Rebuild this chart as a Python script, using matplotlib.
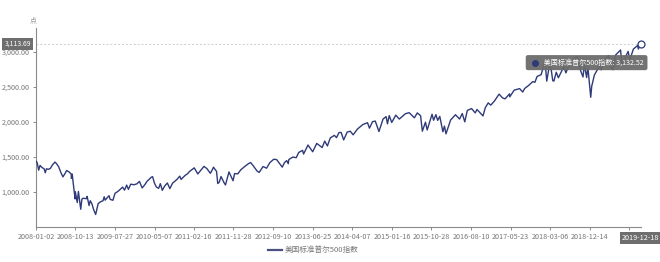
import numpy as np
import matplotlib
matplotlib.use("Agg")
import matplotlib.pyplot as plt

plt.rcParams['font.family'] = ['Noto Sans CJK SC', 'DejaVu Sans']

series_name = '美国标准普尔500指数'

dates = [
    '2008-01-02', '2008-01-10', '2008-01-22', '2008-01-31', '2008-02-14', '2008-02-29',
    '2008-03-10', '2008-03-18', '2008-03-31', '2008-04-15', '2008-04-30', '2008-05-19',
    '2008-05-30', '2008-06-13', '2008-06-30', '2008-07-15', '2008-07-31', '2008-08-11',
    '2008-08-29', '2008-09-12', '2008-09-15', '2008-09-19', '2008-09-29', '2008-10-10',
    '2008-10-13', '2008-10-27', '2008-11-04', '2008-11-20', '2008-11-28', '2008-12-08',
    '2008-12-31',
    '2009-01-06', '2009-01-20', '2009-01-28', '2009-02-10', '2009-02-23', '2009-03-09',
    '2009-03-26', '2009-04-13', '2009-04-30', '2009-05-08', '2009-05-15', '2009-06-12',
    '2009-06-22', '2009-07-10', '2009-07-27', '2009-08-14', '2009-08-28', '2009-09-18',
    '2009-10-02', '2009-10-19', '2009-10-30', '2009-11-17', '2009-12-10', '2009-12-31',
    '2010-01-19', '2010-02-08', '2010-02-26', '2010-03-15', '2010-04-15', '2010-04-23',
    '2010-05-06', '2010-05-20', '2010-06-07', '2010-06-18', '2010-07-02', '2010-07-20',
    '2010-08-09', '2010-08-26', '2010-09-15', '2010-10-15', '2010-11-05', '2010-11-16',
    '2010-12-15', '2010-12-31',
    '2011-01-18', '2011-02-18', '2011-03-16', '2011-04-29', '2011-05-20', '2011-06-15',
    '2011-06-30', '2011-07-07', '2011-07-29', '2011-08-08', '2011-08-18', '2011-08-31',
    '2011-09-22', '2011-10-03', '2011-10-27', '2011-11-25', '2011-12-07', '2011-12-30',
    '2012-01-20', '2012-02-17', '2012-03-16', '2012-04-02', '2012-04-23', '2012-05-18',
    '2012-06-01', '2012-06-29', '2012-07-25', '2012-08-17', '2012-09-14', '2012-10-05',
    '2012-11-15', '2012-11-30', '2012-12-18', '2012-12-28',
    '2013-01-02', '2013-01-31', '2013-02-25', '2013-03-14', '2013-04-11', '2013-04-18',
    '2013-05-21', '2013-06-24', '2013-07-23', '2013-08-30', '2013-09-18', '2013-10-08',
    '2013-10-29', '2013-11-27', '2013-12-12', '2013-12-31',
    '2014-01-15', '2014-02-03', '2014-02-27', '2014-03-21', '2014-04-11', '2014-05-13',
    '2014-06-20', '2014-07-24', '2014-08-07', '2014-08-29', '2014-09-18', '2014-10-15',
    '2014-11-13', '2014-12-05', '2014-12-16', '2014-12-29',
    '2015-01-15', '2015-02-13', '2015-03-11', '2015-04-24', '2015-05-21', '2015-06-29',
    '2015-07-20', '2015-08-12', '2015-08-25', '2015-09-16', '2015-09-29', '2015-11-03',
    '2015-11-13', '2015-12-01', '2015-12-14', '2015-12-29',
    '2016-01-20', '2016-02-01', '2016-02-11', '2016-03-16', '2016-04-20', '2016-05-19',
    '2016-06-08', '2016-06-27', '2016-07-14', '2016-08-15', '2016-09-09', '2016-09-22',
    '2016-11-04', '2016-11-22', '2016-12-13', '2016-12-30',
    '2017-01-26', '2017-03-01', '2017-03-27', '2017-04-13', '2017-05-16', '2017-05-17',
    '2017-06-19', '2017-07-27', '2017-08-18', '2017-09-01', '2017-09-29', '2017-10-31',
    '2017-11-15', '2017-11-30', '2017-12-29',
    '2018-01-26', '2018-02-08', '2018-02-26', '2018-03-09', '2018-03-23', '2018-04-02',
    '2018-04-18', '2018-05-03', '2018-06-12', '2018-06-27', '2018-07-25', '2018-08-29',
    '2018-09-20', '2018-10-11', '2018-10-29', '2018-11-07', '2018-11-23', '2018-12-03',
    '2018-12-24', '2018-12-31',
    '2019-01-18', '2019-02-25', '2019-03-08', '2019-04-05', '2019-04-30', '2019-05-13',
    '2019-06-03', '2019-06-20', '2019-07-26', '2019-08-05', '2019-08-14', '2019-08-30',
    '2019-09-19', '2019-10-02', '2019-10-28', '2019-11-27', '2019-12-03', '2019-12-10',
    '2019-12-18',
]

values = [
    1440, 1420, 1310, 1378, 1348, 1330, 1273, 1330, 1322, 1334, 1385, 1426,
    1400, 1360, 1280, 1214, 1267, 1305, 1283, 1252, 1193, 1255, 1106, 899,
    1003, 848, 1006, 752, 896, 909, 903,
    935, 805, 874, 827, 743, 677, 833, 858, 873, 930, 882, 946,
    893, 880, 980, 1005, 1029, 1068, 1025, 1097, 1036, 1110, 1102, 1115,
    1150, 1056, 1104, 1150, 1211, 1217, 1128, 1071, 1050, 1117, 1022, 1083,
    1127, 1047, 1125, 1176, 1225, 1178, 1236, 1258,
    1295, 1343, 1256, 1364, 1333, 1265, 1321, 1353, 1292, 1119, 1140, 1219,
    1129, 1099, 1285, 1159, 1261, 1258,
    1315, 1362, 1404, 1419, 1366, 1295, 1278, 1362, 1338, 1418, 1466, 1461,
    1353, 1416, 1447, 1402,
    1462, 1498, 1488, 1563, 1593, 1541, 1669, 1573, 1692, 1633, 1725, 1656,
    1771, 1807, 1775, 1848,
    1848, 1742, 1854, 1866, 1815, 1897, 1962, 1988, 1910, 2003, 2011, 1862,
    2039, 2075, 1972, 2090,
    1992, 2096, 2040, 2117, 2131, 2058, 2128, 2086, 1867, 1995, 1884, 2109,
    2023, 2103, 2021, 2078,
    1859, 1939, 1829, 2027, 2102, 2040, 2119, 2000, 2163, 2190, 2128, 2177,
    2085, 2203, 2271, 2239,
    2297, 2396, 2342, 2329, 2400, 2357, 2453, 2475, 2426, 2477, 2519, 2575,
    2565, 2648, 2674,
    2873, 2581, 2780, 2786, 2588, 2582, 2709, 2630, 2787, 2699, 2846, 2914,
    2931, 2729, 2641, 2814, 2633, 2790, 2351, 2507,
    2671, 2796, 2743, 2893, 2946, 2812, 2744, 2954, 3026, 2844, 2840, 2926,
    3006, 2887, 3039, 3090, 3040, 3080, 3113.69,
]

tick_labels = ['2008-01-02', '2008-10-13', '2009-07-27', '2010-05-07', '2011-02-16',
               '2011-11-28', '2012-09-10', '2013-06-25', '2014-04-07', '2015-01-16',
               '2015-10-28', '2016-08-10', '2017-05-23', '2018-03-06', '2018-12-14',
               '2019-09-30']
y_ticks = [1000, 1500, 2000, 2500, 3000]
tooltip_value = 3132.52

start = dates[0]
x = np.busday_count(start, dates)
tx = np.busday_count(start, tick_labels)
x_end = x[-1]

fig = plt.figure(figsize=(6.6, 2.62), dpi=100)
ax = fig.add_axes([0.0545, 0.134, 0.916, 0.759])

line_color = '#2f3a78'
ax.plot(x, values, color=line_color, lw=1.0, zorder=3)
ax.plot([x_end], [values[-1]], marker='o', ms=5, mfc='white', mec=line_color,
        mew=0.9, zorder=4, clip_on=False)

ax.set_xlim(0, x_end)
ax.set_ylim(500, 3340)

# pointer guides
ax.axhline(values[-1], color='#cccccc', ls=(0, (2, 2)), lw=0.7, zorder=1)
ax.axvline(x_end, color='#cccccc', ls=(0, (2, 2)), lw=0.7, zorder=1)

for s in ['top', 'right']:
    ax.spines[s].set_visible(False)
for s in ['left', 'bottom']:
    ax.spines[s].set_color('#8a8a8a')
    ax.spines[s].set_linewidth(0.8)

# last regular tick label is hidden under the pointer label
shown = tick_labels[:-1] + ['']
ax.set_xticks(tx)
ax.set_xticklabels(shown)
ax.set_yticks(y_ticks)
ax.set_yticklabels([f'{v:,.2f}' for v in y_ticks])
ax.tick_params(axis='both', labelsize=5.2, colors='#8a8a8a', labelcolor='#777777',
               length=2.5, width=0.7, pad=2)

ax.text(-0.005, 1.02, '点', transform=ax.transAxes, fontsize=5, color='#999999',
        ha='center', va='bottom')

box = dict(boxstyle='square,pad=0.3', fc='#6e6e6e', ec='none')
ax.text(-0.0085, values[-1], f'{values[-1]:,.2f}', transform=ax.get_yaxis_transform(),
        ha='right', va='center', fontsize=5, color='white', bbox=box, zorder=6,
        clip_on=False)
ax.text(x_end, -0.035, dates[-1], transform=ax.get_xaxis_transform(),
        ha='center', va='top', fontsize=5.2, color='white', bbox=box, zorder=6,
        clip_on=False)

# tooltip
ax.text(0.816, 0.826, f'         {series_name}: {tooltip_value:,.2f}', transform=ax.transAxes,
        fontsize=5.1, color='white', ha='left', va='center', zorder=7,
        bbox=dict(boxstyle='round,pad=0.5,rounding_size=0.3', fc='#6b6b6b',
                  ec='none', alpha=0.95))
ax.plot([0.825], [0.826], 'o', ms=4, color=line_color, transform=ax.transAxes,
        zorder=8, clip_on=False)

fig.legend([plt.Line2D([], [], color='#4a5180', lw=1.6)], [series_name],
           loc='center', bbox_to_anchor=(0.475, 0.045), frameon=False,
           fontsize=5.5, labelcolor='#777777', handlelength=1.8, handletextpad=0.4)

fig.savefig('out.png', dpi=100)
